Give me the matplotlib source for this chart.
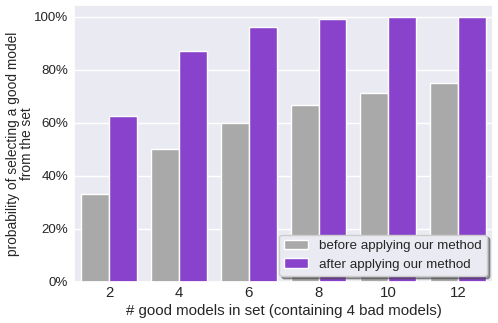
import numpy as np
import pandas as pd
import matplotlib
matplotlib.use('Agg')
import matplotlib.pyplot as plt
import seaborn as sns
from matplotlib.ticker import PercentFormatter

n_good = [2, 4, 6, 8, 10, 12]
before = [33.3, 50.0, 60.0, 66.7, 71.4, 75.0]
after = [62.7, 87.0, 96.0, 99.0, 100.0, 100.0]
methods = ['before applying our method', 'after applying our method']

sns.set_theme(style='darkgrid')
plt.rcParams['font.family'] = ['Liberation Sans', 'DejaVu Sans']

df = pd.DataFrame({
    'n': n_good * 2,
    'p': before + after,
    'method': [methods[0]] * len(n_good) + [methods[1]] * len(n_good),
})

fig, ax = plt.subplots(figsize=(4.98, 3.23), dpi=100)
fig.subplots_adjust(left=0.149, right=0.99, top=0.985, bottom=0.127)

sns.barplot(data=df, x='n', y='p', hue='method', palette=['darkgray', 'blueviolet'],
            saturation=0.75, ax=ax)

ax.set_ylim(0, 104.5)
ax.set_yticks([0, 20, 40, 60, 80, 100])
ax.yaxis.set_major_formatter(PercentFormatter(decimals=0))
ax.tick_params(axis='y', labelsize=9.6, pad=4.5, length=0)
ax.tick_params(axis='x', labelsize=10.8, pad=3, length=0)
ax.set_xlabel('# good models in set (containing 4 bad models)', fontsize=10.8)
ax.set_ylabel('probability of selecting a good model\nfrom the set', fontsize=9.9,
              linespacing=0.95)
ax.xaxis.set_label_coords(0.5, -0.078)
ax.yaxis.set_label_coords(-0.097, 0.5)

ax.legend(loc='lower right', fontsize=9.6, shadow=True, title=None,
          borderaxespad=0.45, handlelength=1.8, framealpha=1, labelspacing=0.45)

plt.savefig('out.png', dpi=100)
